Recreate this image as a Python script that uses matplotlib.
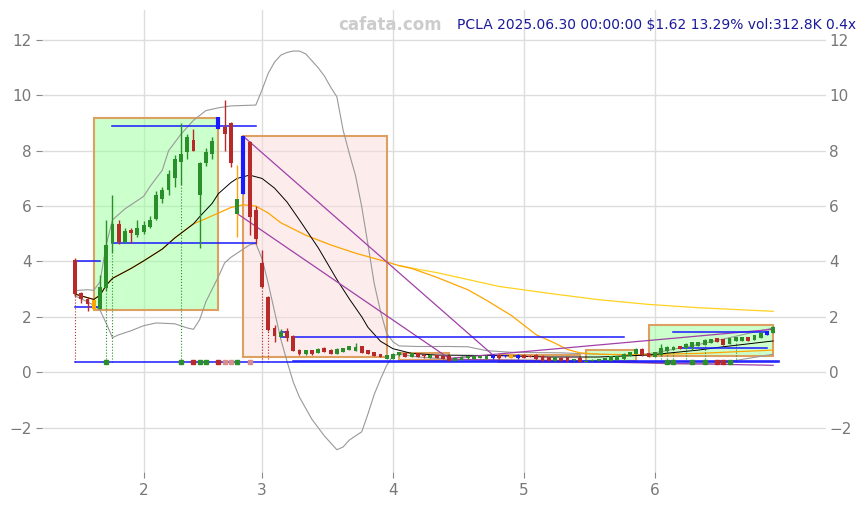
import numpy as np
import matplotlib
matplotlib.use("Agg")
from matplotlib import pyplot as plt
from matplotlib.patches import Rectangle

# ---- candles (one per trading day, index 0 = mid January) ----
opens = [4.05, 2.85, 2.65, 2.6, 2.3, 3.05, 4.67, 5.34, 4.71, 5.15,
         4.97, 5.05, 5.25, 5.55, 6.25, 6.6, 7.0, 7.6, 7.95, 8.4,
         6.4, 7.55, 7.9, 9.0, 8.85, 9.0, 5.71, 6.43, 8.3, 5.85,
         3.95, 2.72, 1.58, 1.28, 1.48, 1.31, 0.82, 0.65, 0.79, 0.71,
         0.87, 0.82, 0.67, 0.73, 0.82, 0.77, 0.94, 0.79, 0.73, 0.65,
         0.49, 0.49, 0.61, 0.70, 0.55, 0.70, 0.63, 0.53, 0.63, 0.60,
         0.60, 0.42, 0.44, 0.50, 0.47, 0.53, 0.48, 0.50, 0.64, 0.57,
         0.52, 0.50, 0.64, 0.60, 0.64, 0.60, 0.55, 0.41, 0.53, 0.55,
         0.43, 0.52, 0.38, 0.40, 0.42, 0.44, 0.40, 0.45, 0.46, 0.58,
         0.67, 0.85, 0.70, 0.55, 0.64, 0.77, 0.82, 0.93, 0.88, 0.92,
         0.94, 1.00, 1.06, 1.24, 1.19, 1.03, 1.13, 1.13, 1.28, 1.18,
         1.24, 1.34, 1.43]
highs = [4.11, 2.9, 2.72, 2.62, 3.5, 5.5, 6.4, 5.5, 5.22, 5.2,
         5.5, 5.45, 5.65, 6.55, 6.7, 7.3, 7.85, 9.0, 8.6, 8.8,
         7.6, 8.1, 8.5, 9.2, 9.83, 9.05, 7.5, 8.53, 8.35, 6.0,
         4.43, 2.75, 1.7, 1.56, 1.58, 1.33, 0.83, 0.80, 0.80, 0.86,
         0.92, 0.83, 0.86, 0.88, 0.95, 1.04, 0.95, 0.80, 0.74, 0.66,
         0.62, 0.68, 0.74, 0.71, 0.71, 0.71, 0.65, 0.65, 0.64, 0.61,
         0.61, 0.54, 0.57, 0.59, 0.61, 0.59, 0.61, 0.65, 0.65, 0.62,
         0.65, 0.65, 0.65, 0.62, 0.66, 0.62, 0.56, 0.56, 0.54, 0.56,
         0.48, 0.53, 0.43, 0.46, 0.48, 0.51, 0.58, 0.58, 0.68, 0.74,
         0.86, 0.86, 0.71, 0.74, 1.01, 0.95, 0.93, 0.94, 1.04, 1.10,
         1.10, 1.19, 1.20, 1.25, 1.20, 1.23, 1.29, 1.29, 1.29, 1.35,
         1.44, 1.49, 1.68]
lows = [2.75, 2.5, 2.2, 2.25, 2.28, 2.95, 4.3, 4.62, 4.68, 4.65,
        4.9, 4.98, 5.2, 5.5, 6.1, 6.4, 6.7, 6.75, 7.7, 8.0,
        4.5, 7.45, 7.7, 8.78, 8.0, 7.4, 4.9, 6.43, 4.95, 4.62,
        3.05, 1.5, 1.1, 1.27, 1.13, 0.75, 0.61, 0.62, 0.64, 0.70,
        0.72, 0.66, 0.66, 0.72, 0.81, 0.76, 0.69, 0.66, 0.58, 0.54,
        0.48, 0.48, 0.60, 0.54, 0.54, 0.54, 0.53, 0.52, 0.50, 0.48,
        0.40, 0.41, 0.43, 0.49, 0.46, 0.52, 0.47, 0.49, 0.49, 0.56,
        0.51, 0.49, 0.51, 0.55, 0.45, 0.41, 0.40, 0.40, 0.39, 0.38,
        0.42, 0.36, 0.37, 0.39, 0.41, 0.43, 0.39, 0.44, 0.45, 0.57,
        0.66, 0.60, 0.54, 0.54, 0.60, 0.70, 0.80, 0.84, 0.86, 0.80,
        0.93, 0.98, 1.05, 1.09, 0.99, 1.02, 1.12, 1.12, 1.12, 1.17,
        1.23, 1.33, 1.42]
closes = [2.82, 2.65, 2.47, 2.3, 3.08, 4.6, 5.35, 4.69, 5.1, 5.02,
          5.2, 5.3, 5.5, 6.4, 6.6, 7.15, 7.7, 7.87, 8.5, 8.0,
          7.55, 7.95, 8.35, 8.8, 8.6, 7.55, 6.24, 8.53, 5.6, 4.8,
          3.08, 1.52, 1.3, 1.46, 1.25, 0.77, 0.67, 0.79, 0.65, 0.85,
          0.73, 0.67, 0.85, 0.87, 0.94, 0.92, 0.70, 0.67, 0.59, 0.55,
          0.61, 0.67, 0.73, 0.55, 0.70, 0.56, 0.58, 0.64, 0.51, 0.49,
          0.42, 0.53, 0.56, 0.57, 0.60, 0.57, 0.60, 0.64, 0.50, 0.61,
          0.64, 0.64, 0.52, 0.56, 0.46, 0.42, 0.41, 0.55, 0.40, 0.39,
          0.47, 0.37, 0.42, 0.45, 0.47, 0.50, 0.57, 0.57, 0.67, 0.73,
          0.85, 0.61, 0.55, 0.73, 0.89, 0.91, 0.92, 0.85, 1.03, 1.09,
          1.09, 1.18, 1.19, 1.10, 1.00, 1.22, 1.28, 1.28, 1.13, 1.34,
          1.43, 1.48, 1.62]
blue_candles = [27, 67, 69, 71, 111]
orange_candles = [3, 70]

# month ticks
month_idx = [11, 30, 51, 72, 93]
month_lbl = ['2', '3', '4', '5', '6']

# ---- indicator lines ----
ma_black_idx = [0, 3, 4, 5, 6, 9, 11, 14, 16, 19, 20, 22, 23, 25, 26, 28, 30, 32,
                34, 36, 39, 42, 44, 46, 47, 49, 51, 54, 58, 68, 76, 84, 92, 100, 104, 112]
ma_black_val = [2.82, 2.63, 2.78, 3.14, 3.39, 3.75, 4.02, 4.45, 4.85, 5.36, 5.62, 6.1,
                6.45, 6.85, 7.0, 7.12, 7.0, 6.65, 6.15, 5.5, 4.5, 3.35, 2.65, 2.0, 1.62,
                1.12, 0.85, 0.68, 0.62, 0.6, 0.55, 0.55, 0.62, 0.8, 0.92, 1.13]
ma_orange_idx = [0, 3, 4, 5, 6, 9, 11, 14, 16, 19, 21, 25, 27, 29, 31, 33, 37, 41, 45,
                 49, 52, 54, 58, 63, 66, 70, 74, 77, 79, 81, 84, 90, 100, 112]
ma_orange_val = [2.82, 2.63, 2.78, 3.14, 3.39, 3.75, 4.02, 4.45, 4.85, 5.36, 5.55, 5.95,
                 6.05, 6.0, 5.75, 5.4, 4.95, 4.6, 4.3, 4.05, 3.85, 3.75, 3.43, 2.98, 2.6,
                 2.05, 1.35, 1.05, 0.82, 0.7, 0.65, 0.63, 0.68, 0.8]
ma_yellow_idx = [52, 55, 58, 63, 68, 76, 84, 92, 100, 112]
ma_yellow_val = [3.85, 3.72, 3.6, 3.35, 3.1, 2.85, 2.62, 2.45, 2.33, 2.2]

band_up_idx = [0, 2, 3, 4, 5, 6, 8, 11, 12, 14, 15, 17, 19, 21, 23, 25, 29, 30, 31,
               32, 33, 34, 35, 36, 37, 38, 39, 40, 41, 42, 43, 44, 45, 46, 47, 48, 49,
               50, 51, 52, 55, 60, 63, 66, 70, 78, 84, 90, 93, 100, 106, 112]
band_up_val = [2.95, 2.98, 2.96, 3.26, 4.6, 5.5, 5.9, 6.35, 6.7, 7.3, 8.0, 8.6, 9.1,
               9.45, 9.55, 9.62, 9.65, 10.2, 10.8, 11.2, 11.45, 11.55, 11.6, 11.6, 11.5,
               11.25, 11.0, 10.7, 10.3, 9.95, 8.75, 7.9, 7.1, 5.97, 4.6, 3.2, 2.2, 1.4,
               1.1, 0.95, 0.93, 0.93, 0.92, 0.78, 0.72, 0.7, 0.65, 0.62, 0.7, 1.0, 1.3, 1.6]
band_lo_idx = [0, 2, 3, 4, 5, 6, 7, 9, 11, 13, 16, 18, 19, 20, 21, 22, 23, 24, 25, 26,
               27, 28, 29, 30, 31, 32, 33, 34, 35, 36, 38, 40, 41, 42, 43, 44, 45, 46,
               47, 48, 49, 50, 51, 52, 55, 60, 70, 80, 90, 95, 100, 104, 108, 112]
band_lo_val = [2.76, 2.54, 2.42, 2.24, 1.77, 1.25, 1.35, 1.5, 1.68, 1.78, 1.75, 1.6,
               1.55, 1.9, 2.55, 3.0, 3.45, 3.95, 4.15, 4.3, 4.45, 4.6, 4.65, 4.1, 3.2,
               2.2, 1.2, 0.4, -0.35, -0.9, -1.7, -2.3, -2.55, -2.8, -2.7, -2.45, -2.3,
               -2.15, -1.5, -0.8, -0.25, 0.25, 0.6, 0.65, 0.55, 0.47, 0.45, 0.42, 0.38,
               0.3, 0.3, 0.35, 0.5, 0.65]

# ---- zones: start idx, end idx, low, high ----
green_zones = [(3, 23, 2.24, 9.2), (82, 90, 0.4, 0.82), (92, 112, 0.58, 1.70)]
red_zones = [(27, 50, 0.55, 8.53), (52, 60, 0.43, 0.70), (68, 81, 0.37, 0.62)]

# ---- blue levels: start idx, end idx, price ----
levels = [(6, 29, 8.9), (6, 29, 4.65), (0, 4, 4.0), (0, 4, 2.34), (35, 88, 1.26),
          (33, 34, 1.46), (33, 34, 1.28), (96, 111, 1.45), (97, 111, 0.89),
          (0, 113, 0.355), (35, 113, 0.39)]
# trend lines: (idx0, val0, idx1, val1)
trends = [(27, 8.52, 67, 0.63), (26, 5.73, 60, 0.5), (60, 0.5, 112, 1.55),
          (60, 0.47, 112, 0.25)]

# markers along the base line
mark_green = [5, 17, 20, 21, 26, 95, 96, 99, 101, 105]
mark_red = [19, 23, 103, 104]
mark_pink = [24, 25, 28]
base_level = 0.37
drop_green = [5, 6, 17, 94, 95, 96, 98, 101, 106]
drop_red = [0, 30, 31]

GREEN = '#2a8f2a'
RED = '#b82a2a'

fig = plt.figure(figsize=(8.66, 5.05), dpi=100)
ax = fig.add_axes([0.0485, 0.065, 0.9055, 0.915])

for a, b, lo, hi in green_zones:
    ax.add_patch(Rectangle((a, lo), b - a, hi - lo, facecolor=(0.6, 1.0, 0.6, 0.5),
                           edgecolor='#dea060', lw=1.5, zorder=1))
for a, b, lo, hi in red_zones:
    ax.add_patch(Rectangle((a, lo), b - a, hi - lo, facecolor=(0.98, 0.86, 0.86, 0.5),
                           edgecolor='#dea060', lw=1.5, zorder=1))

ax.plot(band_up_idx, band_up_val, color='#999999', lw=0.8, zorder=2)
ax.plot(band_lo_idx, band_lo_val, color='#999999', lw=0.8, zorder=2)
ax.plot(ma_yellow_idx, ma_yellow_val, color='#ffd21f', lw=0.9, zorder=2)
ax.plot(ma_orange_idx, ma_orange_val, color='#ffa500', lw=0.9, zorder=2)
ax.plot(ma_black_idx, ma_black_val, color='black', lw=0.7, zorder=2.1)

for x0, y0, x1, y1 in trends:
    ax.plot([x0, x1], [y0, y1], color='#a040a8', lw=0.9, zorder=2.2)
for a, b, y in levels:
    ax.plot([a, b], [y, y], color='#1a1aff', lw=1.1, zorder=2.3)

idx = np.arange(len(closes))
o = np.array(opens)
c = np.array(closes)
colors = [GREEN if c[i] >= o[i] else RED for i in idx]
for i in blue_candles:
    colors[i] = '#1a1aff'
for i in orange_candles:
    colors[i] = '#ffa500'
wick_colors = list(colors)
wick_colors[26] = '#ffa500'

ax.vlines(idx[drop_green], base_level, np.array(lows)[drop_green], colors=GREEN,
          linestyles=':', lw=0.8, zorder=2)
ax.vlines(idx[drop_red], base_level, np.array(lows)[drop_red], colors=RED,
          linestyles=':', lw=0.8, zorder=2)

ax.vlines(idx, lows, highs, colors=wick_colors, lw=1.0, zorder=3)
ax.bar(idx, np.maximum(np.abs(c - o), 0.02), bottom=np.minimum(o, c), width=0.62,
       color=colors, zorder=3.1)
ax.vlines([23, 27], [8.8, 6.43], [9.23, 8.53], colors='#1a1aff', lw=3, zorder=3.2)

ax.plot(mark_green, [base_level] * len(mark_green), 's', color=GREEN, ms=3.5, zorder=4)
ax.plot(mark_red, [base_level] * len(mark_red), 's', color=RED, ms=3.5, zorder=4)
ax.plot(mark_pink, [base_level] * len(mark_pink), 's', color='#d98c8c', ms=3.5, zorder=4)

ax.set_xlim(-5.3, 120.5)
ax.set_ylim(-3.61, 13.08)
ax.set_xticks(month_idx)
ax.set_xticklabels(month_lbl)
ax.set_yticks(range(-2, 13, 2))
ax.grid(True, color='#dddddd', lw=1)
ax.set_axisbelow(True)
for s in ax.spines.values():
    s.set_visible(False)
ax.tick_params(axis='both', colors='#888888', labelcolor='#777777', labelsize=11,
               length=4)

# right-hand price labels, no tick marks
ax2 = ax.twinx()
ax2.set_ylim(ax.get_ylim())
ax2.set_yticks(range(-2, 13, 2))
for s in ax2.spines.values():
    s.set_visible(False)
ax2.tick_params(axis='y', length=0, pad=2, labelcolor='#777777', labelsize=11)

fig.text(390 / 866, 1 - 25 / 505, 'cafata.com', ha='center', va='center',
         color='#cccccc', fontsize=12, fontweight='bold')
fig.text(457 / 866, 1 - 25 / 505,
         'PCLA 2025.06.30 00:00:00 $1.62 13.29% vol:312.8K 0.4x',
         ha='left', va='center', color='#1a1a9a', fontsize=10)

fig.savefig('out.png', dpi=100)
